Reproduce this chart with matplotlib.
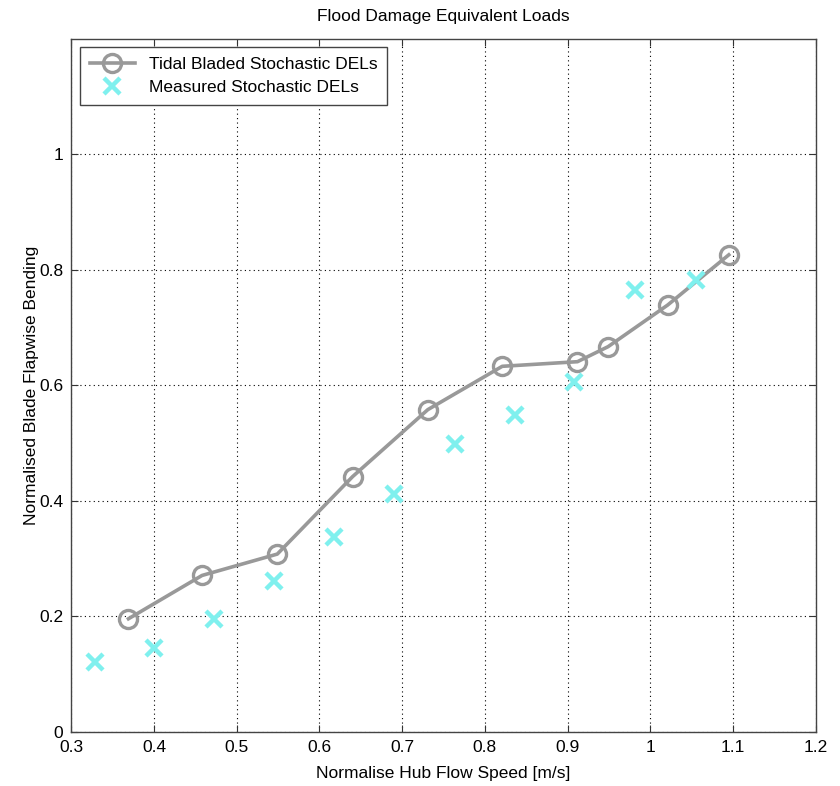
import matplotlib
matplotlib.use("Agg")
import matplotlib.pyplot as plt

plt.rcParams["font.family"] = ["Liberation Sans", "DejaVu Sans"]

# Tidal Bladed stochastic DELs
sim_speed = [0.369, 0.458, 0.549, 0.640, 0.731, 0.821, 0.912, 0.949, 1.021, 1.095]
sim_del = [0.196, 0.271, 0.308, 0.442, 0.558, 0.633, 0.641, 0.667, 0.739, 0.826]

# Measured stochastic DELs
meas_speed = [0.328, 0.400, 0.472, 0.545, 0.617, 0.690, 0.764, 0.837, 0.908, 0.982, 1.055]
meas_del = [0.122, 0.146, 0.196, 0.261, 0.338, 0.412, 0.498, 0.548, 0.605, 0.765, 0.783]

xticks = [0.3, 0.4, 0.5, 0.6, 0.7, 0.8, 0.9, 1.0, 1.1, 1.2]
xlabels = ["0.3", "0.4", "0.5", "0.6", "0.7", "0.8", "0.9", "1", "1.1", "1.2"]
yticks = [0, 0.2, 0.4, 0.6, 0.8, 1.0]
ylabels = ["0", "0.2", "0.4", "0.6", "0.8", "1"]

fig = plt.figure(figsize=(8.4, 7.86), dpi=100)
ax = fig.add_axes([0.085, 0.0687, 0.886, 0.882])

ax.plot(sim_speed, sim_del, color="#999999", lw=2.6, marker="o", ms=13,
        mfc="none", mec="#999999", mew=2.4, label="Tidal Bladed Stochastic DELs")
ax.plot(meas_speed, meas_del, ls="none", marker="x", ms=11, mew=3.2,
        color="#7ff0ee", label="Measured Stochastic DELs")

ax.set_xlim(0.3, 1.2)
ax.set_ylim(0, 1.2)
ax.set_xticks(xticks)
ax.set_xticklabels(xlabels)
ax.set_yticks(yticks)
ax.set_yticklabels(ylabels)
ax.tick_params(direction="in", top=True, right=True, labelsize=12.5, length=5,
               color="#333333")
ax.tick_params(axis="x", pad=6)
ax.tick_params(axis="y", pad=6)
ax.grid(True, color="black", ls=(0, (1, 3)), lw=0.8)
for s in ax.spines.values():
    s.set_color("#444444")
    s.set_linewidth(1.0)

ax.set_xlabel("Normalise Hub Flow Speed [m/s]", fontsize=12.5, labelpad=8)
ax.set_ylabel("Normalised Blade Flapwise Bending", fontsize=12.5, labelpad=0)
ax.set_title("Flood Damage Equivalent Loads", fontsize=12.5, pad=13)

leg = ax.legend(loc="upper left", fontsize=12.5, fancybox=False, framealpha=1,
                edgecolor="#444444", borderaxespad=0.5, handlelength=2.6,
                borderpad=0.55, labelspacing=0.45)
leg.get_frame().set_linewidth(1.0)

fig.savefig("out.png", dpi=100)
